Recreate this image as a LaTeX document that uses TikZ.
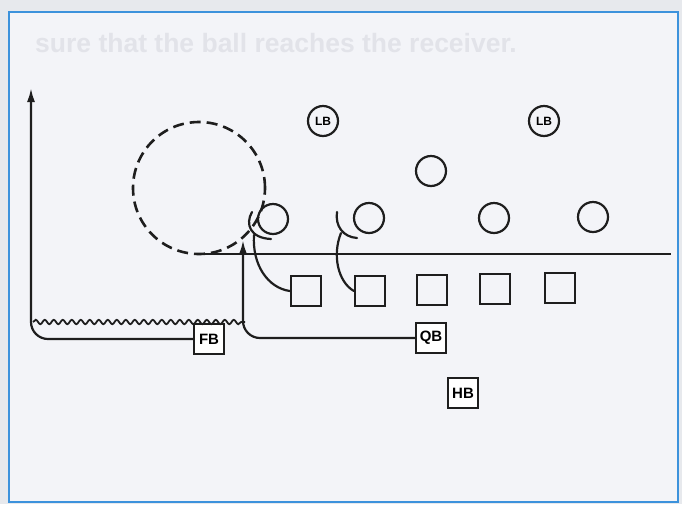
\documentclass[tikz,border=0pt]{standalone}
\usepackage{fontspec}
\setmainfont{Liberation Sans}
\usetikzlibrary{arrows.meta,decorations.pathmorphing}
\definecolor{pagebg}{HTML}{E7E9ED}
\definecolor{boxbg}{HTML}{F3F4F8}
\definecolor{framebl}{HTML}{3C92DC}
\definecolor{ghost}{HTML}{E2E3E9}
\definecolor{ink}{HTML}{1E1E1E}
\tikzset{
  pl/.style={line width=2.2pt, draw=ink},
  sq/.style={pl, rectangle, minimum size=30pt, inner sep=0pt},
  lab/.style={pl, rectangle, minimum size=30pt, inner sep=0pt, fill=white, font=\bfseries\fontsize{15}{15}\selectfont},
  dl/.style={pl, circle, minimum size=30pt, inner sep=0pt},
  lbc/.style={pl, circle, minimum size=30pt, inner sep=0pt, font=\bfseries\fontsize{12}{12}\selectfont},
  route/.style={pl, line cap=round},
  arr/.style={route, -{Latex[length=14pt,width=8pt]}},
  wavy/.style={pl, line width=1.8pt, decorate, decoration={snake, amplitude=2.2pt, segment length=9pt}},
}
\begin{document}
\begin{tikzpicture}[x=1pt,y=-1pt]
\useasboundingbox (0,0) rectangle (682,504);
\fill[pagebg] (0,0) rectangle (682,504);
\draw[framebl, line width=2pt, fill=boxbg] (9,12) rectangle (678,502);
\node[anchor=base west, text=ghost, font=\bfseries\fontsize{26.5}{26.5}\selectfont, inner sep=0pt] (ghosttxt) at (35,52) {sure that the ball reaches the receiver.};
% zone
\node[pl, line width=2.6pt, dash pattern=on 11pt off 6pt, circle, minimum size=132pt, inner sep=0pt] (zone) at (199,188) {};
% line of scrimmage
\coordinate (los1) at (195,254);
\coordinate (los2) at (671,254);
\draw[pl] (los1) -- (los2);
% defense
\node[dl] (d1) at (273,219) {};
\node[dl] (d2) at (369,218) {};
\node[dl] (d3) at (494,218) {};
\node[dl] (d4) at (593,217) {};
\node[dl] (mlb) at (431,171) {};
\node[lbc] (lb1) at (323,121) {LB};
\node[lbc] (lb2) at (544,121) {LB};
% offense
\node[sq] (o1) at (306,291) {};
\node[sq] (o2) at (370,291) {};
\node[sq] (o3) at (432,290) {};
\node[sq] (o4) at (495,289) {};
\node[sq] (o5) at (560,288) {};
\node[lab] (fb) at (209,339) {FB};
\node[lab] (qb) at (431,338) {QB};
\node[lab] (hb) at (463,393) {HB};
% FB route
\coordinate (fbc) at (31,339);
\coordinate (fbtip) at (31,88);
\draw[arr, rounded corners=17pt] (fb.west) -- (fbc) -- (fbtip);
% QB route
\coordinate (qbc) at (243,338);
\coordinate (qbtip) at (243,240);
\draw[arr, rounded corners=17pt] (qb.west) -- (qbc) -- (qbtip);
% pitch
\coordinate (w1) at (33,322);
\coordinate (w2) at (245,322);
\draw[wavy] (w1) -- (w2);
% blocks
\coordinate (b1a) at (252,212);
\coordinate (b1b) at (271,239);
\coordinate (b1j) at (254,235);
\draw[route] (b1a) .. controls (245,224) and (250,238) .. (b1b);
\draw[route] (b1j) .. controls (252,265) and (268,288) .. (o1.west);
\coordinate (b2a) at (337,212);
\coordinate (b2b) at (357,238);
\coordinate (b2j) at (341,233);
\draw[route] (b2a) .. controls (335,226) and (343,237) .. (b2b);
\draw[route] (b2j) .. controls (332,255) and (338,282) .. (o2.west);
\end{tikzpicture}
\end{document}
